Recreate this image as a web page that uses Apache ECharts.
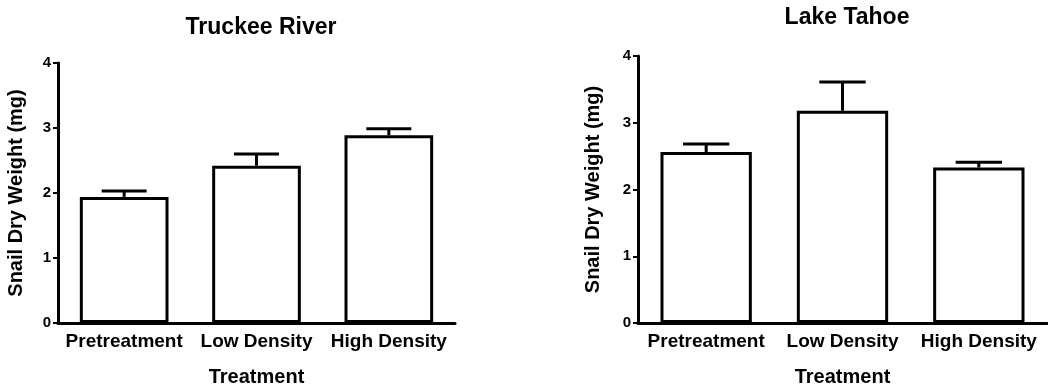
<!DOCTYPE html>
<html>
<head>
<meta charset="utf-8">
<script src="https://cdn.jsdelivr.net/npm/echarts@6/dist/echarts.min.js"></script>
<style>html,body{margin:0;padding:0;background:#fff}#c{width:1048px;height:387px}</style>
</head>
<body>
<div id="c"></div>
<script>
const categories = ['Pretreatment', 'Low Density', 'High Density'];
const truckeeMean = [1.94, 2.42, 2.89];
const truckeeSE = [0.09, 0.18, 0.10];
const tahoeMean = [2.56, 3.18, 2.33];
const tahoeSE = [0.12, 0.43, 0.08];
const yTicks = [0, 1, 2, 3, 4];

const FONT = 'Liberation Sans, Arial, sans-serif';
const chart = echarts.init(document.getElementById('c'), null, {renderer: 'canvas'});

function errSeries(idx, means, ses) {
  return {
    type: 'custom', xAxisIndex: idx, yAxisIndex: idx, z: 1,
    data: means.map((m, i) => [i, m, m + ses[i]]),
    renderItem: function (params, api) {
      const x = api.value(0);
      const lo = api.coord([x, api.value(1)]);
      const hi = api.coord([x, api.value(2)]);
      const bw = api.size([1, 0])[0];
      const hw = bw * 0.17;
      const st = {stroke: '#000', lineWidth: 3};
      return {type: 'group', children: [
        {type: 'line', shape: {x1: lo[0], y1: lo[1], x2: hi[0], y2: hi[1]}, style: st},
        {type: 'line', shape: {x1: hi[0] - hw, y1: hi[1], x2: hi[0] + hw, y2: hi[1]}, style: st}
      ]};
    }
  };
}

function xAxis(idx) {
  return {
    type: 'category', gridIndex: idx, data: categories,
    name: 'Treatment', nameLocation: 'middle', nameGap: 44,
    nameTextStyle: {fontFamily: FONT, fontWeight: 'bold', fontSize: 20, color: '#000'},
    axisLine: {lineStyle: {color: '#000', width: 3}},
    axisTick: {alignWithLabel: true, length: 8, lineStyle: {color: '#000', width: 3}},
    axisLabel: {fontFamily: FONT, fontWeight: 'bold', fontSize: 19, color: '#000', margin: 9, interval: 0}
  };
}
function yAxis(idx, gap) {
  return {
    type: 'value', gridIndex: idx, min: yTicks[0], max: yTicks[yTicks.length - 1], interval: 1,
    name: 'Snail Dry Weight (mg)', nameLocation: 'middle', nameGap: gap, nameRotate: 90,
    nameTextStyle: {fontFamily: FONT, fontWeight: 'bold', fontSize: 20, color: '#000'},
    axisLine: {show: true, lineStyle: {color: '#000', width: 3}},
    axisTick: {show: true, length: 5, lineStyle: {color: '#000', width: 2}},
    splitLine: {show: false},
    axisLabel: {fontFamily: FONT, fontWeight: 'bold', fontSize: 15, color: '#000', margin: 7}
  };
}
function barSeries(idx, means) {
  return {
    type: 'bar', xAxisIndex: idx, yAxisIndex: idx, z: 2, barWidth: '67%',
    data: means,
    itemStyle: {color: '#fff', borderColor: '#000', borderWidth: 3}
  };
}

chart.setOption({
  backgroundColor: '#fff',
  animation: false,
  title: [
    {text: 'Truckee River', left: 256, top: 11, textAlign: 'center',
     textStyle: {fontFamily: FONT, fontWeight: 'bold', fontSize: 23, color: '#000'}},
    {text: 'Lake Tahoe', left: 842, top: 1, textAlign: 'center',
     textStyle: {fontFamily: FONT, fontWeight: 'bold', fontSize: 23, color: '#000'}}
  ],
  grid: [
    {left: 58, top: 63, width: 397, height: 260, outerBoundsMode: 'none', containLabel: false},
    {left: 638, top: 56, width: 409, height: 267, outerBoundsMode: 'none', containLabel: false}
  ],
  xAxis: [xAxis(0), xAxis(1)],
  yAxis: [yAxis(0, 32), yAxis(1, 35)],
  series: [
    errSeries(0, truckeeMean, truckeeSE),
    barSeries(0, truckeeMean),
    errSeries(1, tahoeMean, tahoeSE),
    barSeries(1, tahoeMean)
  ]
});
</script>
</body>
</html>
